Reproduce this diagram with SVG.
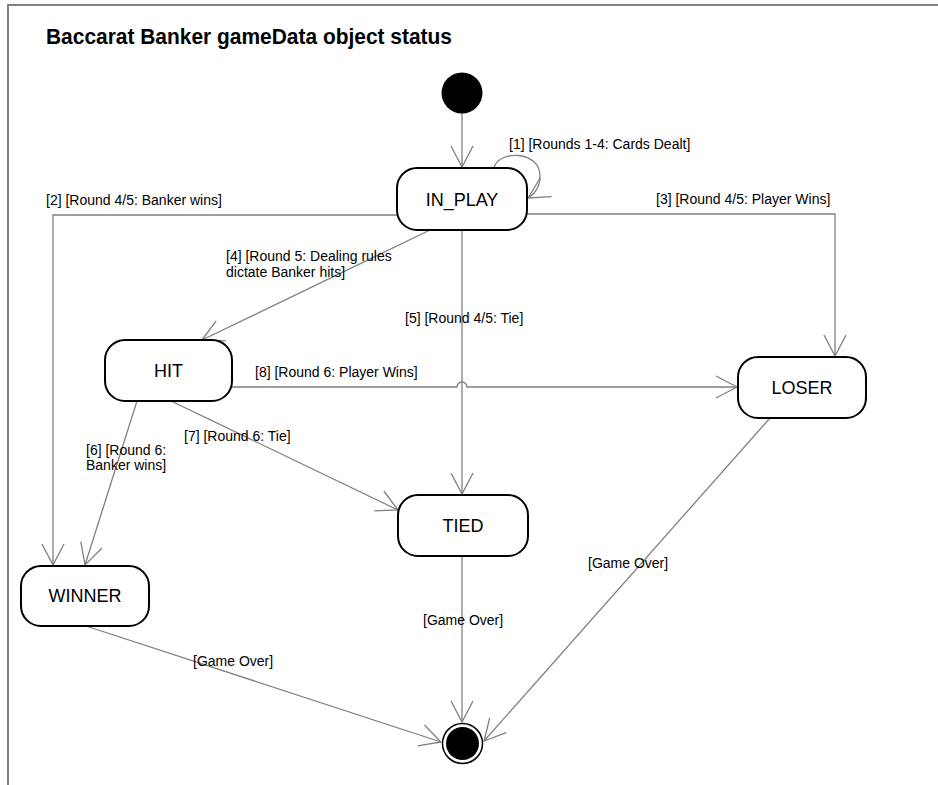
<svg xmlns="http://www.w3.org/2000/svg" width="938" height="785" viewBox="0 0 938 785">
<style>
.frame{fill:none;stroke:#808080;stroke-width:2}
.state{fill:#fff;stroke:#000;stroke-width:2}
.sl{font-family:"Liberation Sans",Arial,sans-serif;font-size:18px;fill:#000;text-anchor:middle}
.el{font-family:"Liberation Sans",Arial,sans-serif;font-size:14px;fill:#000}
.title{font-family:"Liberation Sans",Arial,sans-serif;font-size:22px;font-weight:bold;fill:#000}
.edge{fill:none;stroke:#808080;stroke-width:1.3;marker-end:url(#arr)}
</style>
<defs>
<marker id="arr" markerUnits="userSpaceOnUse" markerWidth="30" markerHeight="30" refX="0" refY="0" viewBox="-25 -15 30 30" orient="auto" overflow="visible">
<path d="M-21,-11 L0,0 L-21,11" fill="none" stroke="#808080" stroke-width="1.3"/>
</marker>
</defs>
<rect width="938" height="785" fill="#fff"/>
<path class="frame" d="M8,785 L8,5 L938,5"/>
<text class="title" x="46" y="44" textLength="406" lengthAdjust="spacingAndGlyphs">Baccarat Banker gameData object status</text>

<g id="connectors">
<path class="edge" d="M462,113 L462,167"/>
<path class="edge" d="M494,168 C498,150 540,150 540,176 C540,184 538,192 528,198"/>
<path class="edge" d="M397,215 L53,215 L53,565"/>
<path class="edge" d="M527,214 L835,214 L835,356"/>
<path class="edge" d="M430,230 L202,340"/>
<path class="edge" d="M462,230 L462,494"/>
<path class="edge" d="M232,387 L457,387 A5,5 0 0 1 467,387 L737,387"/>
<path class="edge" d="M137,401 L85,565"/>
<path class="edge" d="M171,401 L398,510"/>
<path class="edge" d="M462,556 L462,722"/>
<path class="edge" d="M770,418 L484,741"/>
<path class="edge" d="M86,626 L441,742"/>
</g>

<g id="labels">
<text class="el" x="509" y="149">[1] [Rounds 1-4: Cards Dealt]</text>
<text class="el" x="46" y="205">[2] [Round 4/5: Banker wins]</text>
<text class="el" x="656" y="204">[3] [Round 4/5: Player Wins]</text>
<text class="el" x="226" y="261">[4] [Round 5: Dealing rules</text>
<text class="el" x="226" y="277">dictate Banker hits]</text>
<text class="el" x="405" y="323">[5] [Round 4/5: Tie]</text>
<text class="el" x="255" y="377">[8] [Round 6: Player Wins]</text>
<text class="el" x="86" y="455">[6] [Round 6:</text>
<text class="el" x="86" y="470">Banker wins]</text>
<text class="el" x="184" y="441">[7] [Round 6: Tie]</text>
<text class="el" x="423" y="625">[Game Over]</text>
<text class="el" x="588" y="568">[Game Over]</text>
<text class="el" x="193" y="666">[Game Over]</text>
</g>

<g id="start"><circle cx="462" cy="93" r="20.5" fill="#000"/></g>
<g id="in_play"><rect class="state" x="397" y="168" width="130" height="62" rx="20"/><text class="sl" x="462" y="206">IN_PLAY</text></g>
<g id="hit"><rect class="state" x="105" y="340" width="127" height="61" rx="20"/><text class="sl" x="168.5" y="377">HIT</text></g>
<g id="loser"><rect class="state" x="738" y="357" width="128" height="61" rx="20"/><text class="sl" x="802" y="394">LOSER</text></g>
<g id="tied"><rect class="state" x="398" y="495" width="130" height="61" rx="20"/><text class="sl" x="463" y="532">TIED</text></g>
<g id="winner"><rect class="state" x="21" y="566" width="128" height="60" rx="20"/><text class="sl" x="85" y="602">WINNER</text></g>
<g id="end"><circle cx="462.5" cy="743.5" r="20" fill="#fff" stroke="#000" stroke-width="1.5"/><circle cx="462.5" cy="743.5" r="16.5" fill="#000"/></g>
</svg>
